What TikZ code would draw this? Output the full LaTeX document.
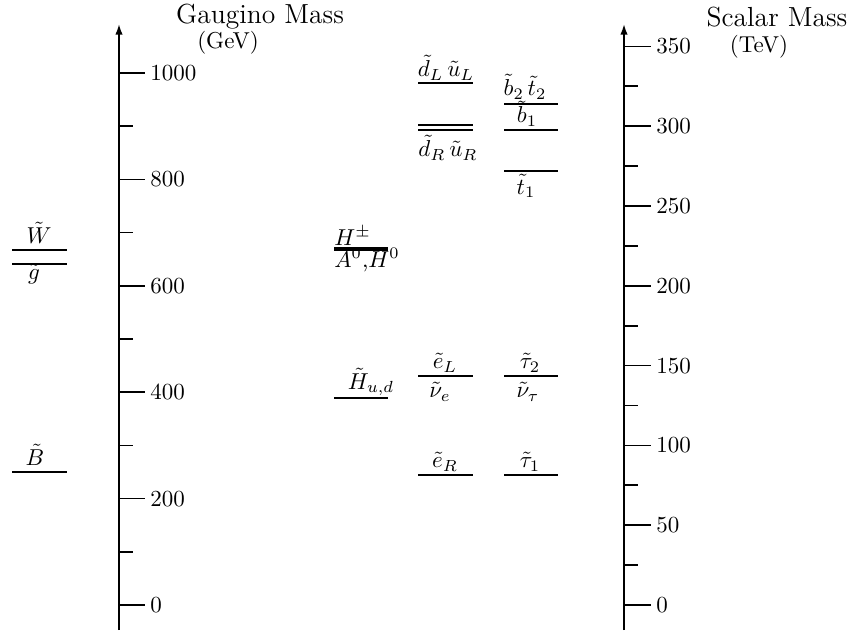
\documentclass[tikz,border=0pt]{standalone}
\usepackage{tikz}
\usetikzlibrary{arrows.meta}
% mass -> vertical position (reference pixels)
\newcommand{\gmass}[1]{605-0.532*#1}
\newcommand{\smass}[1]{605-1.596*#1}
\tikzset{
  massaxis/.style={line width=0.75pt,-{Latex[length=4.6pt,width=3.2pt]}},
  masstick/.style={line width=0.75pt},
  ticklabel/.style={anchor=west,inner sep=2pt},
  level/.style={line width=0.75pt},
  thinlevel/.style={line width=0.55pt},
  heavylevel/.style={line width=1.8pt},
  lvlabel/.style={inner sep=0pt}
}

\begin{document}
\begin{tikzpicture}[x=0.4348pt,y=-0.4348pt]
\useasboundingbox (0,0) rectangle (858,630);

% gaugino axis
\draw[massaxis] (119,630) -- (119,24);
\foreach \m in {0,200,...,1000}
  \draw[masstick] (119,{\gmass{\m}}) -- (145,{\gmass{\m}})
    node[ticklabel] {\m};
\foreach \m in {100,300,...,900}
  \draw[masstick] (119,{\gmass{\m}}) -- (133,{\gmass{\m}});
\node (gtitle) at (260,17) {\large Gaugino Mass};
\node (gunit) at (228,43) {(GeV)};

% scalar axis
\draw[massaxis] (624,630) -- (624,24);
\foreach \m in {0,50,...,350}
  \draw[masstick] (624,{\smass{\m}}) -- (651,{\smass{\m}})
    node[ticklabel] {\m};
\foreach \m in {25,75,...,325}
  \draw[masstick] (624,{\smass{\m}}) -- (638,{\smass{\m}});
\node (stitle) at (777,17) {\large Scalar Mass};
\node (sunit) at (759,47) {(TeV)};

% gauginos
\draw[level] (12,{\gmass{667}}) -- (67,{\gmass{667}});
\draw[thinlevel] (12,{\gmass{641}}) -- (67,{\gmass{641}});
\draw[level] (12,{\gmass{250}}) -- (67,{\gmass{250}});
\node[lvlabel] (wino) at (39,233) {$\tilde W$};
\node[lvlabel] (gluino) at (34,274) {$\tilde g$};
\node[lvlabel] (bino) at (35,455) {$\tilde B$};

% higgs sector
\draw[heavylevel] (334,{\gmass{669}}) -- (388,{\gmass{669}});
\draw[level] (334,{\gmass{389}}) -- (388,{\gmass{389}});
\node[lvlabel,anchor=west] (hpm) at (334,236) {$H^\pm$};
\node[lvlabel,anchor=west] (hneut) at (334,260) {$A^0$,$H^0$};
\node[lvlabel] (higgsino) at (371,382) {$\tilde H_{u,d}$};

% squarks
\draw[level] (418,{\smass{327}}) -- (473,{\smass{327}});
\draw[level] (418,{\smass{300.8}}) -- (473,{\smass{300.8}});
\draw[level] (418,{\smass{297.6}}) -- (473,{\smass{297.6}});
\draw[level] (504,{\smass{314}}) -- (558,{\smass{314}});
\draw[level] (504,{\smass{297.6}}) -- (558,{\smass{297.6}});
\draw[level] (504,{\smass{272}}) -- (558,{\smass{272}});
\node[lvlabel] (sqL) at (446,68) {$\tilde d_L\,\tilde u_L$};
\node[lvlabel] (sqR) at (448,148) {$\tilde d_R\,\tilde u_R$};
\node[lvlabel] (sbt) at (525,87) {$\tilde b_2\,\tilde t_2$};
\node[lvlabel] (sbone) at (527,114) {$\tilde b_1$};
\node[lvlabel] (stone) at (526,186) {$\tilde t_1$};

% sleptons
\draw[level] (418,{\smass{143.5}}) -- (473,{\smass{143.5}});
\draw[level] (504,{\smass{143.5}}) -- (558,{\smass{143.5}});
\draw[level] (418,{\smass{81.5}}) -- (473,{\smass{81.5}});
\draw[level] (504,{\smass{81.5}}) -- (558,{\smass{81.5}});
\node[lvlabel] (seL) at (445,363) {$\tilde e_L$};
\node[lvlabel] (snue) at (440,392) {$\tilde \nu_e$};
\node[lvlabel] (stautwo) at (530,363) {$\tilde \tau_2$};
\node[lvlabel] (snutau) at (528,392) {$\tilde \nu_\tau$};
\node[lvlabel] (seR) at (445,462) {$\tilde e_R$};
\node[lvlabel] (stauone) at (530,462) {$\tilde \tau_1$};
\end{tikzpicture}
\end{document}
